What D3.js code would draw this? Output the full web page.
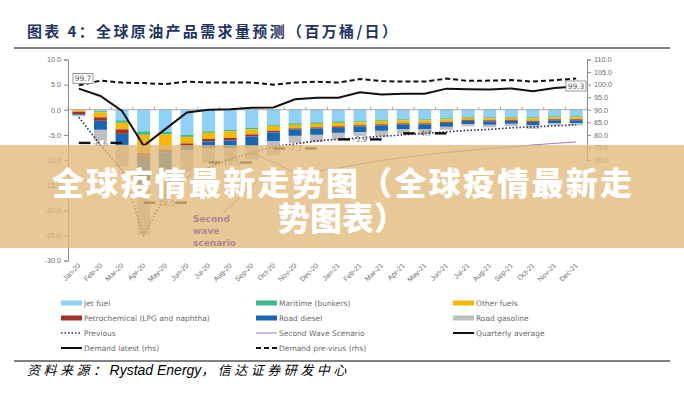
<!DOCTYPE html>
<html>
<head>
<meta charset="utf-8">
<script src="https://cdn.jsdelivr.net/npm/d3@7"></script>
<style>
  body { margin: 0; background: #fff; }
</style>
</head>
<body>
<div id="container"></div>
<script>
  const months = ["Jan-20","Feb-20","Mar-20","Apr-20","May-20","Jun-20","Jul-20","Aug-20","Sep-20","Oct-20","Nov-20","Dec-20",
                  "Jan-21","Feb-21","Mar-21","Apr-21","May-21","Jun-21","Jul-21","Aug-21","Sep-21","Oct-21","Nov-21","Dec-21"];

  // bars, change vs pre-virus (million bbl/d)
  const jetFuel      = [-0.1,-0.3,-2.1,-4.3,-4.4,-5.0,-4.3,-4.0,-3.6,-3.0,-2.7,-2.5,-2.3,-2.3,-2.0,-1.9,-1.9,-1.7,-1.4,-1.5,-1.4,-1.5,-1.3,-1.3];
  const maritime     = [ 0.0,-0.2,-0.5,-0.7,-0.5,-0.4,-0.3,-0.3,-0.3,-0.2,-0.3,-0.3,-0.3,-0.2,-0.2,-0.2,-0.2,-0.2,-0.2,-0.2,-0.2,-0.2,-0.2,-0.2];
  const otherFuels   = [-0.3,-1.0,-1.3,-3.6,-3.0,-1.3,-1.2,-1.3,-1.0,-1.0,-0.7,-0.7,-0.7,-0.6,-0.7,-0.6,-0.6,-0.5,-0.4,-0.4,-0.4,-0.5,-0.4,-0.4];
  const petchem      = [-0.5,-0.7,-0.9,-0.8,-0.6,-0.5,-0.5,-0.5,-0.4,-0.3,-0.2,-0.2,-0.3,-0.2,-0.2,-0.2,-0.2,-0.2,-0.2,-0.2,-0.2,-0.2,-0.2,-0.2];
  const roadDiesel   = [-0.2,-1.8,-2.2,-5.4,-3.3,-0.8,-1.3,-1.5,-2.0,-1.8,-1.3,-1.3,-1.0,-1.2,-1.1,-1.0,-1.0,-0.8,-0.7,-0.7,-0.6,-0.7,-0.6,-0.6];
  const roadGasoline = [-0.2,-2.1,-4.3,-10.1,-6.1,-4.3,-3.0,-2.7,-2.6,-2.8,-1.4,-1.4,-1.4,-0.7,-1.1,-0.9,-0.9,-0.6,-0.4,-0.5,-0.5,-0.7,-0.4,-0.4];

  // lines on the left axis
  const previous   = [-1.5,-7.0,-12.0,-25.0,-17.0,-13.5,-11.5,-9.8,-8.6,-7.3,-6.8,-6.2,-5.9,-5.6,-5.3,-5.0,-4.7,-4.4,-4.1,-3.9,-3.6,-3.4,-3.2,-3.0];
  const secondWave = [null,null,null,null,null,null,null,null,-8.6,-10.5,-12.5,-12.2,-11.6,-10.8,-10.1,-9.5,-9.0,-8.5,-8.1,-7.7,-7.4,-7.0,-6.7,-6.4];
  const quarterAvg = [-6.6,-18.5,-10.5,-7.7,-5.9,-4.7];

  // lines on the right axis
  const demandLatest   = [98.4,95.5,89.5,75.7,82.3,88.9,90.0,90.2,90.8,90.9,94.2,94.8,94.8,97.0,96.1,96.4,96.4,98.4,98.2,98.1,98.5,97.4,98.7,99.3];
  const demandPreVirus = [99.7,101.6,100.8,100.6,100.2,101.2,100.8,100.8,100.8,100.0,100.8,101.2,100.8,102.2,101.4,101.2,101.2,102.4,101.5,101.6,101.8,101.2,101.8,102.4];

  const leftTicks  = [-30,-25,-20,-15,-10,-5,0,5,10];
  const rightTicks = [70,75,80,85,90,95,100,105,110];

  const seriesKeys  = ["Jet fuel","Maritime (bunkers)","Other fuels","Petrochemical (LPG and naphtha)","Road diesel","Road gasoline"];
  const seriesVals  = [jetFuel, maritime, otherFuels, petchem, roadDiesel, roadGasoline];
  const seriesColor = ["#8fd1f7","#3dba8a","#f7b900","#a23329","#1767b3","#bfbfbf"];

  const width = 684, height = 394;
  const svg = d3.create("svg").attr("width", width).attr("height", height)
    .style("font-family", "'DejaVu Sans', Verdana, sans-serif");
  svg.append("rect").attr("width", width).attr("height", height).attr("fill", "#fff");

  const x = d3.scaleBand(months, [68, 587]).paddingInner(0.4).paddingOuter(0.2);
  const yL = d3.scaleLinear([-30, 10], [260.5, 59.5]);
  const yR = d3.scaleLinear([70, 110], [yL(-10), yL(10)]);
  const cx = i => x(months[i]) + x.bandwidth() / 2;

  // title
  svg.append("text").attr("x", 27).attr("y", 37)
    .attr("font-family", "'Noto Sans CJK SC', sans-serif").attr("font-weight", "bold")
    .attr("font-size", 15).attr("fill", "#1f3463")
    .attr("textLength", 370).attr("lengthAdjust", "spacing")
    .text("图表 4：全球原油产品需求量预测（百万桶/日）");
  svg.append("line").attr("x1", 14).attr("x2", 670).attr("y1", 48).attr("y2", 48)
    .attr("stroke", "#000").attr("stroke-width", 1);

  // bars (all negative, stacked down from zero)
  const table = months.map((m, i) => {
    const row = { month: m };
    seriesKeys.forEach((k, j) => row[k] = seriesVals[j][i]);
    return row;
  });
  const stacked = d3.stack().keys(seriesKeys).offset(d3.stackOffsetDiverging)(table);
  svg.append("g").selectAll("g").data(stacked).join("g")
    .attr("fill", (d, i) => seriesColor[i])
    .selectAll("rect").data(d => d).join("rect")
    .attr("x", d => x(d.data.month))
    .attr("width", x.bandwidth())
    .attr("y", d => yL(Math.max(d[0], d[1])))
    .attr("height", d => Math.abs(yL(d[0]) - yL(d[1])));

  // zero line with category ticks
  svg.append("line").attr("x1", 68).attr("x2", 587).attr("y1", yL(0)).attr("y2", yL(0))
    .attr("stroke", "#a6a6a6");
  svg.append("g").selectAll("line").data(d3.range(months.length + 1)).join("line")
    .attr("x1", i => 68 + i * x.step()).attr("x2", i => 68 + i * x.step())
    .attr("y1", yL(0) - 3).attr("y2", yL(0)).attr("stroke", "#a6a6a6");

  // axes
  const axL = svg.append("g").attr("transform", "translate(68,0)")
    .call(d3.axisLeft(yL).tickValues(leftTicks).tickFormat(d => d.toFixed(1)).tickSize(4).tickPadding(3));
  const axR = svg.append("g").attr("transform", "translate(587,0)")
    .call(d3.axisRight(yR).tickValues(rightTicks).tickFormat(d => d.toFixed(1)).tickSize(4).tickPadding(3));
  [axL, axR].forEach(a => {
    a.select(".domain").attr("stroke", "#8c8c8c");
    a.selectAll(".tick line").attr("stroke", "#8c8c8c");
    a.selectAll("text").attr("fill", "#6b6b6b").attr("font-size", 7.2).attr("font-family", null);
  });
  const axB = svg.append("g").attr("transform", "translate(0,262)")
    .call(d3.axisBottom(x).tickSize(0).tickPadding(0));
  axB.select(".domain").remove();
  axB.selectAll("text")
    .attr("fill", "#6b6b6b").attr("font-size", 7).attr("font-family", null)
    .attr("text-anchor", "end").attr("dy", 0)
    .attr("transform", "translate(2,4) rotate(-45)");

  // lines
  const lineL = d3.line().defined(d => d != null).x((d, i) => cx(i)).y(d => yL(d));
  const lineR = d3.line().x((d, i) => cx(i)).y(d => yR(d));
  svg.append("path").attr("d", lineL(secondWave)).attr("fill", "none")
    .attr("stroke", "#9c79c6").attr("stroke-width", 1);
  svg.append("path").attr("d", lineL(previous)).attr("fill", "none")
    .attr("stroke", "#1f2d4f").attr("stroke-width", 1.6).attr("stroke-dasharray", "1.5,2");
  svg.append("path").attr("d", lineR(demandPreVirus)).attr("fill", "none")
    .attr("stroke", "#111").attr("stroke-width", 2).attr("stroke-dasharray", "5,3");
  svg.append("path").attr("d", lineR(demandLatest)).attr("fill", "none")
    .attr("stroke", "#111").attr("stroke-width", 2);

  // quarterly averages with centred labels
  quarterAvg.forEach((v, q) => {
    const x1 = cx(q * 3), x2 = cx(q * 3 + 2), xm = (x1 + x2) / 2, yy = yL(v);
    const gap = 10;
    svg.append("line").attr("x1", x1).attr("x2", xm - gap).attr("y1", yy).attr("y2", yy)
      .attr("stroke", "#111").attr("stroke-width", 2.4);
    svg.append("line").attr("x1", xm + gap).attr("x2", x2).attr("y1", yy).attr("y2", yy)
      .attr("stroke", "#111").attr("stroke-width", 2.4);
    svg.append("text").attr("x", xm).attr("y", yy + 2.8).attr("text-anchor", "middle")
      .attr("font-size", 7.5).attr("fill", "#6b6b6b").text(v.toFixed(1));
  });

  // value boxes for first and last demand points
  const valueBox = (bx, by, txt) => {
    svg.append("rect").attr("x", bx).attr("y", by).attr("width", 20).attr("height", 10)
      .attr("fill", "#fff").attr("stroke", "#7f7f7f").attr("stroke-width", 0.8);
    svg.append("text").attr("x", bx + 10).attr("y", by + 7.8).attr("text-anchor", "middle")
      .attr("font-size", 7.5).attr("fill", "#595959").text(txt);
  };
  valueBox(73, 73.5, demandPreVirus[0].toFixed(1));
  valueBox(566, 81, demandLatest[23].toFixed(1));

  // second wave leader line
  svg.append("line").attr("x1", 222).attr("y1", 214).attr("x2", cx(10) - 30).attr("y2", yL(-12.8))
    .attr("stroke", "#8a5fa6").attr("stroke-width", 0.8);

  // legend
  const legendItems = [
    { label: "Jet fuel", color: seriesColor[0], type: "bar" },
    { label: "Maritime (bunkers)", color: seriesColor[1], type: "bar" },
    { label: "Other fuels", color: seriesColor[2], type: "bar" },
    { label: "Petrochemical (LPG and naphtha)", color: seriesColor[3], type: "bar" },
    { label: "Road diesel", color: seriesColor[4], type: "bar" },
    { label: "Road gasoline", color: seriesColor[5], type: "bar" },
    { label: "Previous", color: "#1f2d4f", type: "dot" },
    { label: "Second Wave Scenario", color: "#9c79c6", type: "thin" },
    { label: "Quarterly average", color: "#111", type: "solid" },
    { label: "Demand latest (rhs)", color: "#111", type: "solid" },
    { label: "Demand pre-virus (rhs)", color: "#111", type: "dash" }
  ];
  const colX = [61, 256, 453], rowY = [303, 318, 333, 348];
  legendItems.forEach((it, i) => {
    const lx = colX[i % 3], ly = rowY[Math.floor(i / 3)];
    const g = svg.append("g");
    if (it.type === "bar") {
      g.append("rect").attr("x", lx).attr("y", ly - 2.5).attr("width", 21).attr("height", 5).attr("fill", it.color);
    } else {
      g.append("line").attr("x1", lx).attr("x2", lx + 21).attr("y1", ly).attr("y2", ly)
        .attr("stroke", it.color)
        .attr("stroke-width", it.type === "thin" ? 1 : it.type === "dot" ? 1.6 : 2)
        .attr("stroke-dasharray", it.type === "dot" ? "1.5,2" : it.type === "dash" ? "5,3" : null);
    }
    g.append("text").attr("x", lx + 23).attr("y", ly + 2.6)
      .attr("font-size", 7.5).attr("fill", "#6b6b6b").text(it.label);
  });

  // source
  svg.append("line").attr("x1", 14).attr("x2", 670).attr("y1", 361).attr("y2", 361)
    .attr("stroke", "#000").attr("stroke-width", 1);
  const src = svg.append("text").attr("x", 27).attr("y", 375)
    .attr("font-style", "italic").attr("fill", "#000");
  const cjk = "'Noto Sans CJK SC', sans-serif";
  src.append("tspan").attr("font-family", cjk).attr("font-size", 13).attr("letter-spacing", 3.5).text("资料来源：");
  src.append("tspan").attr("font-family", "'Liberation Sans', Arial, sans-serif").attr("font-size", 14).text("Rystad Energy");
  src.append("tspan").attr("font-family", cjk).attr("font-size", 13).attr("letter-spacing", 3.5).text("，信达证券研发中心");

  // overlay banner
  svg.append("rect").attr("x", 0).attr("y", 145).attr("width", width).attr("height", 103)
    .attr("fill", "#e0b878").attr("opacity", 0.78);

  // second wave label, shown through the banner
  const sw = svg.append("text").attr("font-size", 9).attr("font-weight", "bold").attr("fill", "#b08591");
  ["Second", "wave", "scenario"].forEach((t, i) =>
    sw.append("tspan").attr("x", 193).attr("y", 222 + i * 12).text(t));

  svg.append("text").attr("x", 52).attr("y", 195)
    .attr("font-family", cjk).attr("font-weight", 900).attr("font-size", 32).attr("fill", "#fff")
    .attr("textLength", 580).attr("lengthAdjust", "spacing")
    .text("全球疫情最新走势图（全球疫情最新走");
  svg.append("text").attr("x", 342).attr("y", 230).attr("text-anchor", "middle")
    .attr("font-family", cjk).attr("font-weight", 900).attr("font-size", 32).attr("fill", "#fff")
    .text("势图表）");

  document.getElementById("container").appendChild(svg.node());
</script>
</body>
</html>
